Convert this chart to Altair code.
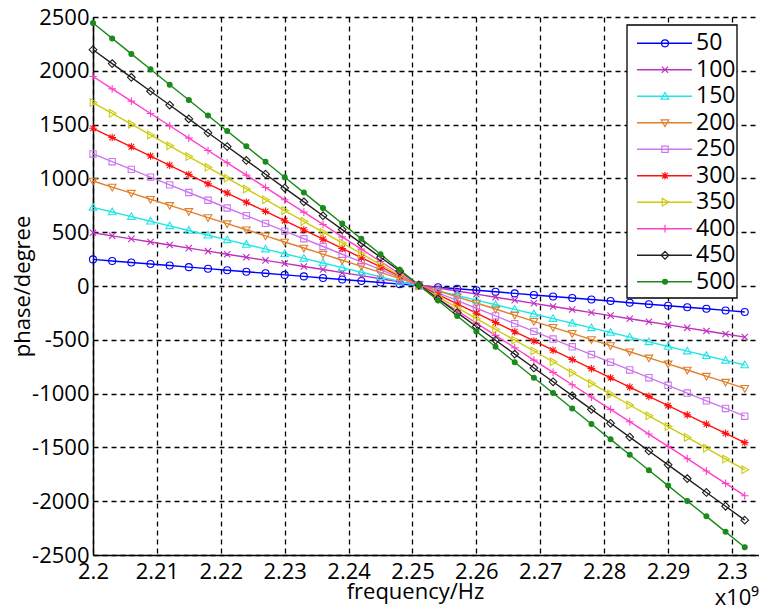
import altair as alt
import pandas as pd

# ---------------- data ----------------
freq = [2.200, 2.203, 2.206, 2.209, 2.212, 2.215, 2.218, 2.221, 2.224, 2.227,
        2.230, 2.233, 2.236, 2.239, 2.242, 2.245, 2.248, 2.251, 2.254, 2.257,
        2.260, 2.263, 2.266, 2.269, 2.272, 2.275, 2.278, 2.281, 2.284, 2.287,
        2.290, 2.293, 2.296, 2.299, 2.302]

series_names = ["50", "100", "150", "200", "250", "300", "350", "400", "450", "500"]
legend_rank = [0, 1, 2, 3, 4, 5, 6, 7, 8, 9]

phase_50 = [247, 233, 218, 204, 190, 175, 161, 147, 132, 118, 103, 89, 75, 60, 46, 32, 17, 3,
            -11, -26, -40, -54, -69, -83, -97, -112, -126, -140, -155, -169, -184, -198, -212, -227, -241]
phase_100 = [495, 466, 438, 409, 381, 352, 324, 295, 267, 238, 210, 181, 153, 124, 96, 67, 39, 10,
             -19, -47, -76, -104, -133, -161, -190, -218, -247, -275, -304, -332, -361, -389, -418, -446, -475]
phase_150 = [731, 688, 645, 602, 559, 516, 472, 429, 386, 343, 300, 257, 214, 171, 128, 85, 42, -1,
             -45, -88, -131, -174, -217, -260, -303, -346, -389, -432, -475, -519, -562, -605, -648, -691, -734]
phase_200 = [976, 919, 863, 806, 749, 693, 636, 579, 523, 466, 409, 353, 296, 239, 183, 126, 69, 13,
             -44, -101, -158, -214, -271, -328, -384, -441, -498, -554, -611, -668, -724, -781, -838, -894, -951]
phase_250 = [1227, 1155, 1084, 1012, 940, 869, 797, 725, 654, 582, 510, 439, 367, 295, 224, 152, 80, 9,
             -63, -135, -207, -278, -350, -422, -493, -565, -637, -708, -780, -852, -923, -995, -1067, -1138, -1210]
phase_300 = [1466, 1380, 1294, 1208, 1122, 1036, 950, 864, 778, 693, 607, 521, 435, 349, 263, 177, 91, 5,
             -81, -167, -253, -339, -425, -511, -597, -683, -768, -854, -940, -1026, -1112, -1198, -1284, -1370, -1456]
phase_350 = [1705, 1605, 1504, 1404, 1303, 1203, 1103, 1002, 902, 802, 701, 601, 500, 400, 300, 199, 99, -2,
             -102, -202, -303, -403, -503, -604, -704, -805, -905, -1005, -1106, -1206, -1306, -1407, -1507, -1608, -1708]
phase_400 = [1947, 1832, 1718, 1603, 1489, 1374, 1259, 1145, 1030, 916, 801, 687, 572, 457, 343, 228, 114, -1,
             -116, -230, -345, -459, -574, -689, -803, -918, -1032, -1147, -1261, -1376, -1491, -1605, -1720, -1834, -1949]
phase_450 = [2196, 2067, 1939, 1810, 1682, 1553, 1424, 1296, 1167, 1039, 910, 782, 653, 524, 396, 267, 139, 10,
             -119, -247, -376, -504, -633, -762, -890, -1019, -1147, -1276, -1404, -1533, -1662, -1790, -1919, -2047, -2176]
phase_500 = [2444, 2301, 2157, 2014, 1871, 1728, 1584, 1441, 1298, 1154, 1011, 868, 724, 581, 438, 295, 151, 8,
             -135, -279, -422, -565, -708, -852, -995, -1138, -1282, -1425, -1568, -1712, -1855, -1998, -2141, -2285, -2428]

x_ticks = [2.2, 2.21, 2.22, 2.23, 2.24, 2.25, 2.26, 2.27, 2.28, 2.29, 2.3]
y_ticks = [-2500, -2000, -1500, -1000, -500, 0, 500, 1000, 1500, 2000, 2500]

# ---------------- styles ----------------
colors = ["#0000FF", "#BF30BF", "#22E6E6", "#E0802A", "#CC77EE",
          "#FF1010", "#CCCC10", "#FF40C8", "#202020", "#1A8A1A"]
fills = ["transparent", "transparent", "transparent", "transparent", "transparent",
         "#FF1010", "transparent", "transparent", "transparent", "#1A8A1A"]

marker_paths = [
    "M1,0A1,1,0,1,1,-1,0A1,1,0,1,1,1,0Z",                      # circle
    "M-0.9,-0.9L0.9,0.9M-0.9,0.9L0.9,-0.9",                    # x
    "M0,-1.1L1.1,0.8L-1.1,0.8Z",                               # triangle up
    "M0,1.1L1.1,-0.8L-1.1,-0.8Z",                              # triangle down
    "M-0.9,-0.9H0.9V0.9H-0.9Z",                                # square
    "M-1.1,0L1.1,0M0,-1.1L0,1.1M-0.8,-0.8L0.8,0.8M-0.8,0.8L0.8,-0.8",  # asterisk
    "M1.1,0L-0.8,-1.1L-0.8,1.1Z",                              # triangle right
    "M-1.1,0L1.1,0M0,-1.1L0,1.1",                              # plus
    "M0,-1.1L1.1,0L0,1.1L-1.1,0Z",                             # diamond
    "M0.7,0A0.7,0.7,0,1,1,-0.7,0A0.7,0.7,0,1,1,0.7,0Z",        # dot
]

series_values = [phase_50, phase_100, phase_150, phase_200, phase_250,
                 phase_300, phase_350, phase_400, phase_450, phase_500]
rows = []
for name, vals in zip(series_names, series_values):
    for f, v in zip(freq, vals):
        rows.append({"freq": f, "phase": v, "series": name})
df = pd.DataFrame(rows)
legend_df = pd.DataFrame({"series": series_names, "rank": legend_rank})

W, H = 666, 538
FONT = "Open Sans"

x_enc = alt.X("freq:Q",
              scale=alt.Scale(domain=[2.2, 2.30423], nice=False, zero=False),
              axis=alt.Axis(values=x_ticks, format=".3~g", labelFont=FONT, labelFontSize=22,
                            labelColor="black", labelPadding=6, ticks=False, labelFlush=False,
                            domainColor="black", domainWidth=1.5,
                            gridColor="black", gridDash=[5, 4], gridWidth=1.3, gridOpacity=1,
                            title="frequency/Hz", titleFont=FONT, titleFontSize=22,
                            titleFontWeight="normal", titleColor="black",
                            titleX=322, titleY=43, titleBaseline="alphabetic",
                            labelOverlap=False))
y_enc = alt.Y("phase:Q",
              scale=alt.Scale(domain=[-2500, 2500], nice=False),
              axis=alt.Axis(values=y_ticks, labelExpr="datum.value + ''", labelFont=FONT,
                            labelFontSize=22, labelColor="black", labelPadding=4, ticks=False,
                            domainColor="black", domainWidth=1.5,
                            gridColor="black", gridDash=[5, 4], gridWidth=1.3, gridOpacity=1,
                            title="phase/degree", titleFont=FONT, titleFontSize=22,
                            titleFontWeight="normal", titleColor="black",
                            titleX=-71, titleY=H / 2, titleAngle=-90, titleBaseline="middle",
                            titleAlign="center", labelOverlap=False))

color_enc = alt.Color("series:N", scale=alt.Scale(domain=series_names, range=colors), legend=None)
fill_enc = alt.Fill("series:N", scale=alt.Scale(domain=series_names, range=fills), legend=None)
shape_enc = alt.Shape("series:N", scale=alt.Scale(domain=series_names, range=marker_paths), legend=None)

lines = alt.Chart(df).mark_line(strokeWidth=1.4).encode(x=x_enc, y=y_enc, color=color_enc)
points = alt.Chart(df).mark_point(filled=False, size=49, strokeWidth=1.1, opacity=1).encode(
    x=x_enc, y=y_enc, color=color_enc, fill=fill_enc, shape=shape_enc)
main = alt.layer(lines, points)

# ---------------- legend (box + line samples + markers + labels) ----------------
leg_y = alt.Y("rank:Q", scale=alt.Scale(domain=[0, 9], range=[26.3, 264.7], nice=False, zero=False),
              axis=None)

leg_box = alt.Chart(pd.DataFrame({"k": [0]})).mark_rect(
    fill="white", stroke="black", strokeWidth=1.3
).encode(x=alt.value(534), x2=alt.value(644), y=alt.value(8), y2=alt.value(281))

leg_rules = alt.Chart(legend_df).mark_rule(strokeWidth=1.5).encode(
    x=alt.value(544), x2=alt.value(599), y=leg_y, color=color_enc)

leg_pts = alt.Chart(legend_df).mark_point(filled=False, size=49, strokeWidth=1.2, opacity=1).encode(
    x=alt.value(572), y=leg_y, color=color_enc, fill=fill_enc, shape=shape_enc)

leg_text = alt.Chart(legend_df).mark_text(
    font=FONT, fontSize=23, align="left", baseline="middle", color="black"
).encode(x=alt.value(603), y=leg_y, text="series:N")

legend = alt.layer(leg_box, leg_rules, leg_pts, leg_text)

exp_text = alt.Chart(pd.DataFrame({"t": ["x10\u2079"]})).mark_text(
    font=FONT, fontSize=22, align="right", baseline="alphabetic", color="black"
).encode(text="t:N", x=alt.value(W), y=alt.value(H + 50))

chart = alt.layer(main, legend, exp_text).resolve_scale(y="independent").properties(
    width=W, height=H,
    autosize=alt.AutoSizeParams(type="none"),
    padding={"left": 85, "top": 9, "right": 0, "bottom": 52},
).configure_view(stroke=None)

chart.save("out.html", embed_options={"renderer": "svg", "actions": False})
